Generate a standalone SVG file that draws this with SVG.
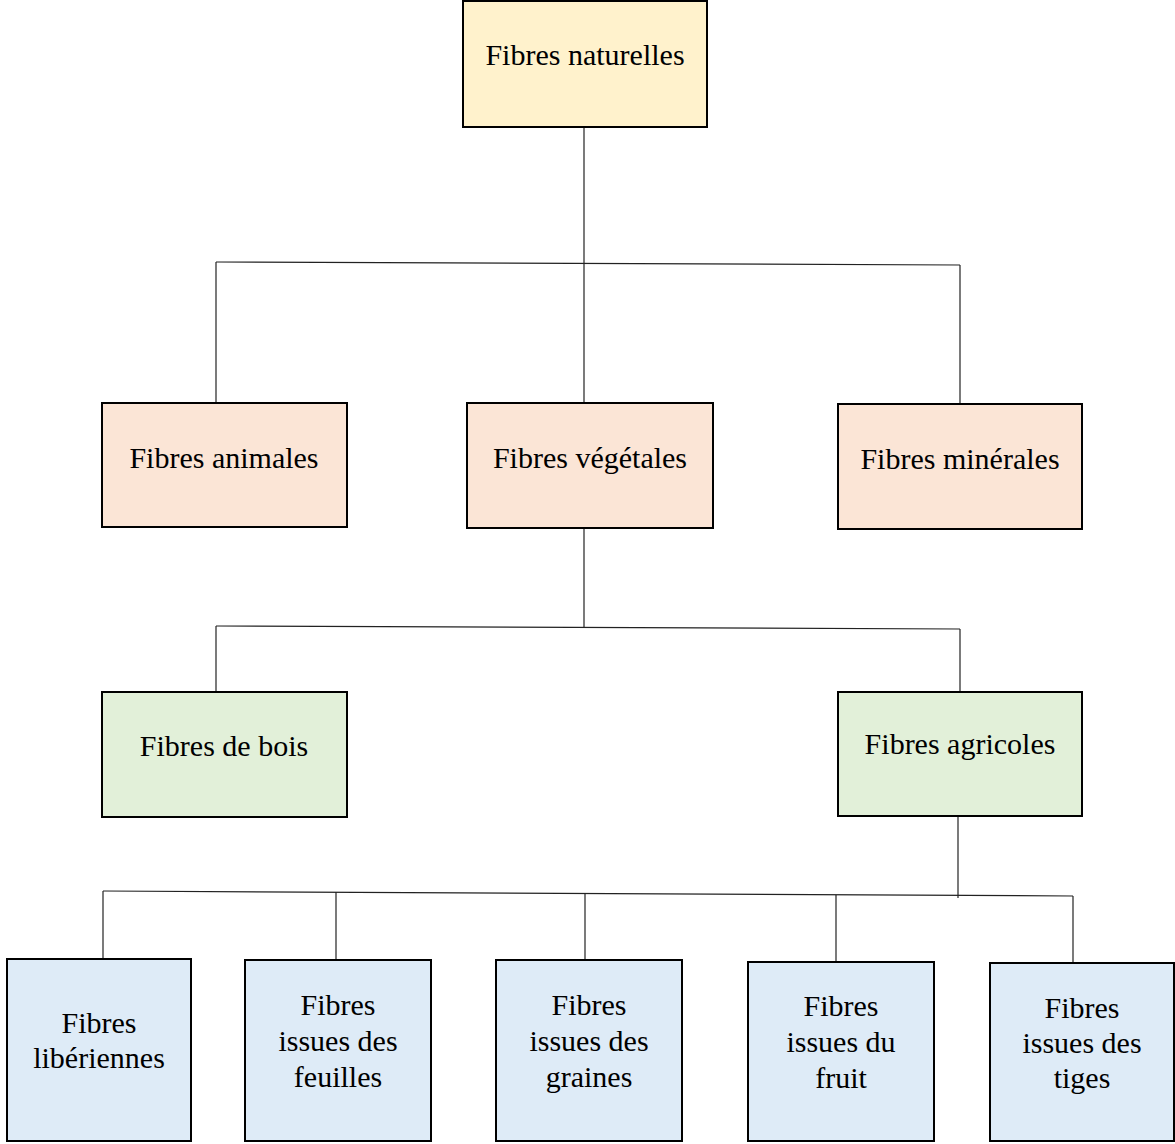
<svg xmlns="http://www.w3.org/2000/svg" width="1175" height="1144" viewBox="0 0 1175 1144">
<style>
.box{stroke:#000;stroke-width:2}
.y{fill:#FFF2CC}.o{fill:#FBE5D6}.g{fill:#E2F0D9}.b{fill:#DEEBF7}
text{font-family:"Liberation Serif","Times New Roman",serif;font-size:30px;fill:#000;text-anchor:middle}
.c line{stroke:#222;stroke-width:1.2}
</style>
<rect width="1175" height="1144" fill="#fff"/>
<g class="c" id="connectors">
<line x1="584" y1="127" x2="584" y2="403"/>
<line x1="216" y1="262" x2="960" y2="265"/>
<line x1="216" y1="262" x2="216" y2="403"/>
<line x1="960" y1="265" x2="960" y2="404"/>
<line x1="584" y1="528" x2="584" y2="627"/>
<line x1="216" y1="626" x2="960" y2="629"/>
<line x1="216" y1="626" x2="216" y2="692"/>
<line x1="960" y1="629" x2="960" y2="692"/>
<line x1="958" y1="816" x2="958" y2="898"/>
<line x1="103" y1="891" x2="1073" y2="896"/>
<line x1="103" y1="891" x2="103" y2="959"/>
<line x1="336" y1="892" x2="336" y2="960"/>
<line x1="585" y1="893" x2="585" y2="960"/>
<line x1="836" y1="895" x2="836" y2="962"/>
<line x1="1073" y1="896" x2="1073" y2="963"/>
</g>
<g id="n-naturelles"><rect class="box y" x="463" y="1" width="244" height="126"/><text x="585" y="65">Fibres naturelles</text></g>
<g id="n-animales"><rect class="box o" x="102" y="403" width="245" height="124"/><text x="224" y="468">Fibres animales</text></g>
<g id="n-vegetales"><rect class="box o" x="467" y="403" width="246" height="125"/><text x="590" y="468">Fibres végétales</text></g>
<g id="n-minerales"><rect class="box o" x="838" y="404" width="244" height="125"/><text x="960" y="469">Fibres minérales</text></g>
<g id="n-bois"><rect class="box g" x="102" y="692" width="245" height="125"/><text x="224" y="756">Fibres de bois</text></g>
<g id="n-agricoles"><rect class="box g" x="838" y="692" width="244" height="124"/><text x="960" y="754">Fibres agricoles</text></g>
<g id="n-liberiennes"><rect class="box b" x="7" y="959" width="184" height="182"/><text x="99" y="1033">Fibres</text><text x="99" y="1068">libériennes</text></g>
<g id="n-feuilles"><rect class="box b" x="245" y="960" width="186" height="181"/><text x="338" y="1015">Fibres</text><text x="338" y="1051">issues des</text><text x="338" y="1087">feuilles</text></g>
<g id="n-graines"><rect class="box b" x="496" y="960" width="186" height="181"/><text x="589" y="1015">Fibres</text><text x="589" y="1051">issues des</text><text x="589" y="1087">graines</text></g>
<g id="n-fruit"><rect class="box b" x="748" y="962" width="186" height="179"/><text x="841" y="1016">Fibres</text><text x="841" y="1052">issues du</text><text x="841" y="1088">fruit</text></g>
<g id="n-tiges"><rect class="box b" x="990" y="963" width="184" height="178"/><text x="1082" y="1018">Fibres</text><text x="1082" y="1053">issues des</text><text x="1082" y="1088">tiges</text></g>
</svg>
